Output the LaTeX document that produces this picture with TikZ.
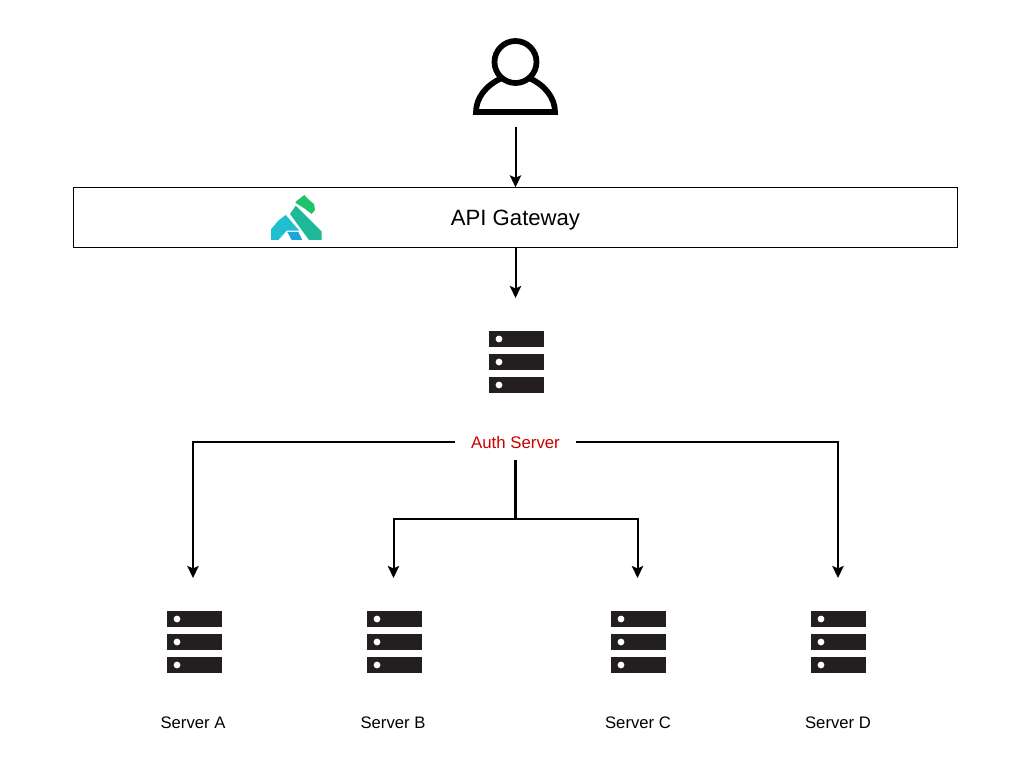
\documentclass[tikz,border=0pt]{standalone}
\usepackage{fontspec}
\setmainfont{Liberation Sans}
\usepackage{xcolor}
\usetikzlibrary{arrows.meta}
\definecolor{iconblack}{HTML}{231F20}
\definecolor{authred}{HTML}{CC0000}
\definecolor{konggreen}{HTML}{1FC46A}
\definecolor{kongteal}{HTML}{1FB99A}
\definecolor{kongcyan}{HTML}{1FBFD0}
\definecolor{kongblue}{HTML}{1BA5D8}
\tikzset{conn/.style={draw=black,line width=1.5pt,-{Stealth[length=9pt,width=8.5pt,inset=1.8pt]}},
 plainconn/.style={draw=black,line width=1.7pt},
 gatewaybox/.style={draw=black,line width=.75pt,minimum width=663pt,minimum height=44.5pt,text depth=0pt,font=\fontsize{16.6}{20}\selectfont},
 authlabel/.style={text=authred,minimum width=90.75pt,minimum height=27pt,inner sep=0pt,font=\fontsize{12.6}{15}\selectfont},
 serverlabel/.style={inner sep=0pt,font=\fontsize{12.5}{15}\selectfont},
 personline/.style={draw=black,line width=4.3pt},
 pics/serverstack/.style={code={
   \foreach \rowy in {-23,0,23}{
     \fill[iconblack] (-27.5,\rowy-8) rectangle (27.5,\rowy+8);
     \fill[white] (-17.5,\rowy) circle (3.4);
   }
 }},
 }

\begin{document}
\begin{tikzpicture}[x=.75pt,y=-.75pt]
        \useasboundingbox (0,0) rectangle (1026,780);
        % user on top
        \coordinate (userout) at (515.5,127);
        \draw[personline] (515.5,62) circle (21);
        \draw[personline] (502,78) .. controls (486,85) and (476,98) .. (476,112)
            -- (555,112) .. controls (555,98) and (545,85) .. (529,78);
        % gateway
        \node[gatewaybox] (gateway) at (515.5,217.5) {API Gateway};
        \fill[konggreen] (295.7,201.7) -- (304.3,195) -- (308.3,199.3) -- (314,204) -- (315,210) -- (311.7,214) -- (304.3,208.3) -- (295.7,203) -- cycle;
        \fill[kongteal] (290,214) -- (295.7,205.7) -- (321.7,231.7) -- (321.7,240) -- (309,240) -- cycle;
        \fill[kongcyan] (271,240) -- (271,229.3) -- (278.3,220.7) -- (285.7,215) -- (299.3,230.7) -- (286.7,230.7) -- (278.3,240) -- cycle;
        \fill[kongblue] (287.3,232) -- (298.3,232) -- (302.3,240) -- (291.7,240) -- cycle;
        \draw[conn] (userout) -- (gateway);
        % auth server
        \coordinate (authin) at (515.5,298);
        \draw[conn] (gateway) -- (authin);
        \pic at (516.5,362) {serverstack};
        \node[authlabel] (auth) at (515.5,442) {Auth Server};
        % backend servers
        \pic at (194.5,642) {serverstack};
        \pic at (394.5,642) {serverstack};
        \pic at (638.5,642) {serverstack};
        \pic at (838.5,642) {serverstack};
        \node[serverlabel] (servera) at (193,723) {Server A};
        \node[serverlabel] (serverb) at (393,723) {Server B};
        \node[serverlabel] (serverc) at (638,723) {Server C};
        \node[serverlabel] (serverd) at (838,723) {Server D};
        \coordinate (ina) at (193,578);
        \coordinate (inb) at (393.5,578);
        \coordinate (inc) at (637.5,578);
        \coordinate (ind) at (838,578);
        \coordinate (split) at (515.5,519);
        \draw[conn] (auth.west) -| (ina);
        \draw[conn] (auth.east) -| (ind);
        \draw[plainconn] (auth.south) -- (split);
        \draw[conn] (split) -| (inb);
        \draw[conn] (split) -| (inc);
    \end{tikzpicture}
\end{document}
